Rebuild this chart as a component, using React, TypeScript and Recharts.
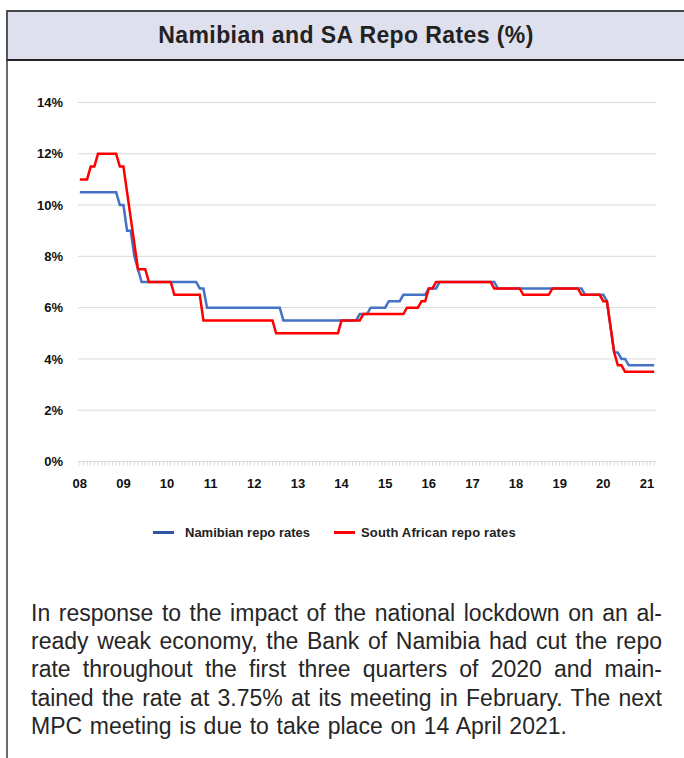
import { LineChart, Line, XAxis, YAxis, CartesianGrid } from "recharts"

// Jan 2008 .. Mar 2021, monthly, per cent
const yearLabels = ["08", "09", "10", "11", "12", "13", "14", "15", "16", "17", "18", "19", "20", "21"]

const namibiaRepo = [
  10.5, 10.5, 10.5, 10.5, 10.5, 10.5, 10.5, 10.5, 10.5, 10.5, 10.5, 10,
  10, 9, 9, 8, 7.5, 7, 7, 7, 7, 7, 7, 7,
  7, 7, 7, 7, 7, 7, 7, 7, 7, 6.75, 6.75, 6,
  6, 6, 6, 6, 6, 6, 6, 6, 6, 6, 6, 6,
  6, 6, 6, 6, 6, 6, 6, 6, 5.5, 5.5, 5.5, 5.5,
  5.5, 5.5, 5.5, 5.5, 5.5, 5.5, 5.5, 5.5, 5.5, 5.5, 5.5, 5.5,
  5.5, 5.5, 5.5, 5.5, 5.5, 5.75, 5.75, 5.75, 6, 6, 6, 6,
  6, 6.25, 6.25, 6.25, 6.25, 6.5, 6.5, 6.5, 6.5, 6.5, 6.5, 6.5,
  6.75, 6.75, 6.75, 7, 7, 7, 7, 7, 7, 7, 7, 7,
  7, 7, 7, 7, 7, 7, 7, 6.75, 6.75, 6.75, 6.75, 6.75,
  6.75, 6.75, 6.75, 6.75, 6.75, 6.75, 6.75, 6.75, 6.75, 6.75, 6.75, 6.75,
  6.75, 6.75, 6.75, 6.75, 6.75, 6.75, 6.75, 6.5, 6.5, 6.5, 6.5, 6.5,
  6.5, 6.25, 5.25, 4.25, 4.25, 4, 4, 3.75, 3.75, 3.75, 3.75, 3.75,
  3.75, 3.75, 3.75,
]

const saRepo = [
  11, 11, 11, 11.5, 11.5, 12, 12, 12, 12, 12, 12, 11.5,
  11.5, 10.5, 9.5, 8.5, 7.5, 7.5, 7.5, 7, 7, 7, 7, 7,
  7, 7, 6.5, 6.5, 6.5, 6.5, 6.5, 6.5, 6.5, 6.5, 5.5, 5.5,
  5.5, 5.5, 5.5, 5.5, 5.5, 5.5, 5.5, 5.5, 5.5, 5.5, 5.5, 5.5,
  5.5, 5.5, 5.5, 5.5, 5.5, 5.5, 5, 5, 5, 5, 5, 5,
  5, 5, 5, 5, 5, 5, 5, 5, 5, 5, 5, 5,
  5.5, 5.5, 5.5, 5.5, 5.5, 5.5, 5.75, 5.75, 5.75, 5.75, 5.75, 5.75,
  5.75, 5.75, 5.75, 5.75, 5.75, 5.75, 6, 6, 6, 6, 6.25, 6.25,
  6.75, 6.75, 7, 7, 7, 7, 7, 7, 7, 7, 7, 7,
  7, 7, 7, 7, 7, 7, 6.75, 6.75, 6.75, 6.75, 6.75, 6.75,
  6.75, 6.75, 6.5, 6.5, 6.5, 6.5, 6.5, 6.5, 6.5, 6.5, 6.75, 6.75,
  6.75, 6.75, 6.75, 6.75, 6.75, 6.75, 6.5, 6.5, 6.5, 6.5, 6.5, 6.5,
  6.25, 6.25, 5.25, 4.25, 3.75, 3.75, 3.5, 3.5, 3.5, 3.5, 3.5, 3.5,
  3.5, 3.5, 3.5,
]

const yTicks = [0, 2, 4, 6, 8, 10, 12, 14]

const data = namibiaRepo.map((v, i) => ({ month: i, namibia: v, sa: saRepo[i] }))
const monthTicks = data.map((d) => d.month)

const FONT = "'Liberation Sans', Arial, sans-serif"
const BLUE = "#4472c4"
const RED = "#ff0000"

const paragraph = [
  "In response to the impact of the national lockdown on an al-",
  "ready weak economy, the Bank of Namibia had cut the repo",
  "rate throughout the first three quarters of 2020 and main-",
  "tained the rate at 3.75% at its meeting in February. The next",
  "MPC meeting is due to take place on 14 April 2021.",
]

function YearTick(props: any) {
  const { x, y, payload } = props
  if (payload.value % 12 !== 0) return <g />
  return (
    <text x={x} y={y} dy="0.71em" textAnchor="middle" fontSize={13} fontWeight="bold" fill="#111" fontFamily={FONT}>
      {yearLabels[payload.value / 12]}
    </text>
  )
}

export default function App() {
  return (
    <div style={{ position: "relative", width: 684, height: 758, background: "#fff", overflow: "hidden", fontFamily: FONT }}>
      <style>{`body{margin:0}`}</style>

      {/* frame + title band */}
      <div style={{ position: "absolute", left: 6, top: 11, width: 1.5, height: 747, background: "#6b6b6b" }} />
      <div
        style={{
          position: "absolute",
          left: 6,
          top: 10,
          right: 0,
          height: 47,
          background: "#dfe0ed",
          borderTop: "2px solid #474747",
          borderBottom: "2px solid #222",
          borderLeft: "2px solid #555",
          display: "flex",
          alignItems: "center",
          justifyContent: "center",
          fontSize: 23,
          letterSpacing: 0.4,
          fontWeight: "bold",
          color: "#222",
        }}
      >
        Namibian and SA Repo Rates (%)
      </div>

      <div style={{ position: "absolute", left: 0, top: 0 }}>
        <LineChart width={684} height={520} data={data} margin={{ top: 102.5, right: 28, bottom: 18.5, left: 0 }}>
          <CartesianGrid vertical={false} stroke="#d9d9d9" strokeWidth={1} />
          <XAxis
            type="number"
            dataKey="month"
            domain={[-0.5, 158.5]}
            ticks={monthTicks}
            interval={0}
            height={40}
            tick={<YearTick />}
            tickSize={4}
            tickMargin={13}
            tickLine={{ stroke: "#d6d6d6" }}
            axisLine={{ stroke: "#d9d9d9" }}
          />
          <YAxis
            domain={[0, 14]}
            ticks={yTicks}
            width={78}
            axisLine={false}
            tickLine={false}
            tickSize={0}
            tickMargin={15}
            tickFormatter={(v) => `${v}%`}
            tick={{ fontSize: 13, fontWeight: "bold", fill: "#111", fontFamily: FONT }}
          />
          <Line type="linear" dataKey="namibia" stroke={BLUE} strokeWidth={2.5} dot={false} isAnimationActive={false} />
          <Line type="linear" dataKey="sa" stroke={RED} strokeWidth={2.5} dot={false} isAnimationActive={false} />
        </LineChart>
      </div>

      {/* legend */}
      <div style={{ position: "absolute", top: 525, left: 153, display: "flex", alignItems: "center", fontSize: 13, fontWeight: "bold", color: "#222" }}>
        <span style={{ display: "inline-block", width: 21, height: 3, background: "#2f55a4", marginRight: 11 }} />
        <span style={{ marginRight: 24 }}>Namibian repo rates</span>
        <span style={{ display: "inline-block", width: 21, height: 3, background: RED, marginRight: 6 }} />
        <span style={{ letterSpacing: 0.15 }}>South African repo rates</span>
      </div>

      {/* commentary */}
      <div style={{ position: "absolute", left: 31, top: 599, width: 631, fontSize: 23, lineHeight: "28.2px", color: "#262626" }}>
        {paragraph.map((line, i) => (
          <div
            key={i}
            style={{
              whiteSpace: "nowrap",
              textAlign: i < paragraph.length - 1 ? "justify" : "left",
              textAlignLast: i < paragraph.length - 1 ? "justify" : "left",
              wordSpacing: i < paragraph.length - 1 ? 0 : 1.3,
            }}
          >
            {line}
          </div>
        ))}
      </div>
    </div>
  )
}
